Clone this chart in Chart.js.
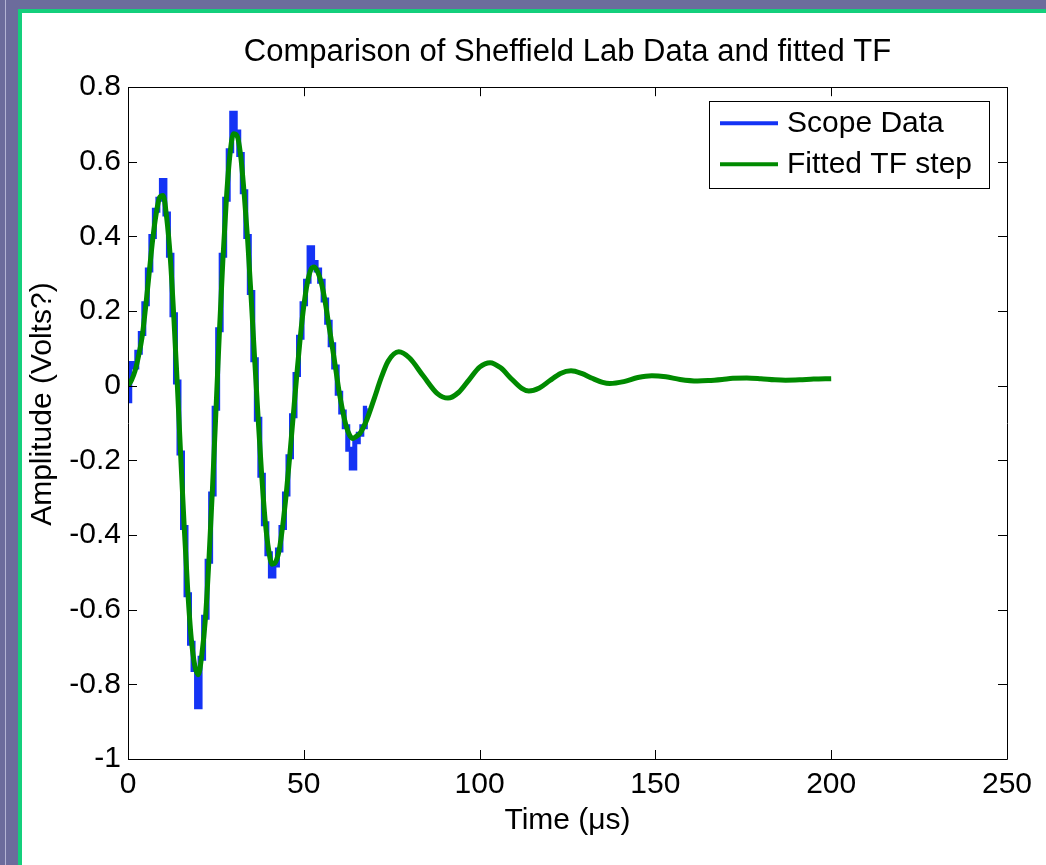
<!DOCTYPE html>
<html>
<head>
<meta charset="utf-8">
<script src="https://cdn.jsdelivr.net/npm/chart.js@4.4.1/dist/chart.umd.min.js"></script>
<style>
  html, body { margin: 0; padding: 0; }
  body { width: 1046px; height: 865px; overflow: hidden; background: #6c6c9c; position: relative; }
  .stripe { position: absolute; left: 5px; top: 0; width: 1px; height: 865px; background: #b4b4d4; }
  #frame { position: absolute; left: 18px; top: 9px; width: 1024px; height: 852px;
           border-left: 4px solid #14cf7c; border-top: 4px solid #14cf7c; background: #fff; }
  #wrap { position: absolute; left: 0; top: 0; width: 1024px; height: 852px; }
</style>
</head>
<body>
<div class="stripe"></div>
<div id="frame"><div id="wrap"><canvas id="chart"></canvas></div></div>
<script>
// Scope data (µs, volts)
const scopeTime = [
  0, 1, 2, 3, 4, 5, 6, 7, 8, 9, 10, 11, 12, 13, 14, 15, 16, 17, 18, 19,
  20, 21, 22, 23, 24, 25, 26, 27, 28, 29, 30, 31, 32, 33, 34, 35, 36, 37, 38, 39,
  40, 41, 42, 43, 44, 45, 46, 47, 48, 49, 50, 51, 52, 53, 54, 55, 56, 57, 58, 59,
  60, 61, 62, 63, 64, 65, 66, 67, 68
];
const scopeVolts = [
  -0.04, 0.06, 0.05, 0.09, 0.14, 0.22, 0.31, 0.40, 0.47, 0.50, 0.55, 0.46, 0.35, 0.19, 0.01, -0.18, -0.38, -0.56, -0.69, -0.76,
  -0.86, -0.73, -0.62, -0.47, -0.29, -0.06, 0.15, 0.35, 0.50, 0.63, 0.73, 0.68, 0.62, 0.52, 0.40, 0.25, 0.07, -0.09, -0.24, -0.37,
  -0.45, -0.51, -0.48, -0.44, -0.38, -0.29, -0.19, -0.08, 0.03, 0.13, 0.22, 0.28, 0.37, 0.33, 0.31, 0.28, 0.23, 0.17, 0.11, 0.05,
  -0.02, -0.07, -0.11, -0.17, -0.22, -0.15, -0.13, -0.11, -0.06
];

// Fitted TF step response
const fitTime = [
  0, 1, 2, 3, 4, 5, 6, 7, 8, 9, 10, 11, 12, 13, 14, 15, 16, 17, 18, 19,
  20, 21, 22, 23, 24, 25, 26, 27, 28, 29, 30, 31, 32, 33, 34, 35, 36, 37, 38, 39,
  40, 41, 42, 43, 44, 45, 46, 47, 48, 49, 50, 51, 52, 53, 54, 55, 56, 57, 58, 59,
  60, 61, 62, 63, 64, 65, 66, 67, 68, 70, 72, 74, 77, 80, 84, 88, 91, 94, 97, 100,
  103, 106, 109, 112, 114, 117, 120, 123, 126, 129, 132, 135, 137, 141, 145, 149, 153, 157, 162, 165,
  169, 172, 176, 180, 184, 187, 191, 195, 200
];
const fitVolts = [
  0.00, 0.015, 0.04, 0.08, 0.13, 0.21, 0.30, 0.39, 0.46, 0.505, 0.51, 0.45, 0.347, 0.19, 0.008, -0.19, -0.381, -0.55, -0.678, -0.75,
  -0.774, -0.72, -0.626, -0.47, -0.28, -0.07, 0.145, 0.34, 0.503, 0.62, 0.675, 0.67, 0.62, 0.52, 0.395, 0.24, 0.075, -0.085, -0.236, -0.36,
  -0.44, -0.478, -0.472, -0.44, -0.375, -0.29, -0.189, -0.08, 0.028, 0.13, 0.214, 0.275, 0.311, 0.318, 0.304, 0.275, 0.229, 0.17, 0.111, 0.05,
  -0.013, -0.065, -0.106, -0.132, -0.141, -0.135, -0.127, -0.11, -0.089, -0.035, 0.021, 0.066, 0.091, 0.075, 0.026, -0.021, -0.033, -0.018, 0.016, 0.050,
  0.062, 0.048, 0.019, -0.007, -0.014, -0.006, 0.014, 0.033, 0.040, 0.033, 0.020, 0.009, 0.006, 0.011, 0.022, 0.027, 0.024, 0.017, 0.013, 0.014,
  0.017, 0.020, 0.021, 0.019, 0.016, 0.015, 0.016, 0.018, 0.019
];

const xTicks = [0, 50, 100, 150, 200, 250];
const xTickLabels = ["0", "50", "100", "150", "200", "250"];
const yTicks = [-1, -0.8, -0.6, -0.4, -0.2, 0, 0.2, 0.4, 0.6, 0.8];
const yTickLabels = ["-1", "-0.8", "-0.6", "-0.4", "-0.2", "0", "0.2", "0.4", "0.6", "0.8"];

const seriesNames = ["Scope Data", "Fitted TF step"];
const chartTitle = "Comparison of Sheffield Lab Data and fitted TF";
const xTitle = "Time (\u03bcs)";
const yTitle = "Amplitude (Volts?)";

const BLUE = "#1433f5";
const GREEN = "#008a00";
const FONT = "'Liberation Sans', Arial, sans-serif";
const TICK = 9;

Chart.defaults.font.family = FONT;
Chart.defaults.color = "#000";

// axes box with inward ticks, like matlab
const boxPlugin = {
  id: "matlabBox",
  afterDatasetsDraw(chart) {
    const { ctx, chartArea: a, scales: { x, y } } = chart;
    ctx.save();
    ctx.strokeStyle = "#000";
    ctx.lineWidth = 1;
    ctx.beginPath();
    ctx.rect(Math.round(a.left) + 0.5, Math.round(a.top) + 0.5,
             Math.round(a.right - a.left), Math.round(a.bottom - a.top));
    x.ticks.forEach((t) => {
      const px = Math.round(x.getPixelForValue(t.value)) + 0.5;
      ctx.moveTo(px, a.bottom); ctx.lineTo(px, a.bottom - TICK);
      ctx.moveTo(px, a.top); ctx.lineTo(px, a.top + TICK);
    });
    y.ticks.forEach((t) => {
      const py = Math.round(y.getPixelForValue(t.value)) + 0.5;
      ctx.moveTo(a.left, py); ctx.lineTo(a.left + TICK, py);
      ctx.moveTo(a.right, py); ctx.lineTo(a.right - TICK, py);
    });
    ctx.stroke();

    // y axis label
    ctx.fillStyle = "#000";
    ctx.font = "30px " + FONT;
    ctx.textAlign = "center";
    ctx.textBaseline = "middle";
    ctx.translate(21, (a.top + a.bottom) / 2 - 19);
    ctx.rotate(-Math.PI / 2);
    ctx.fillText(yTitle, 0, 0);
    ctx.restore();
  }
};

// legend box in the upper right corner
const legendPlugin = {
  id: "boxLegend",
  afterDraw(chart) {
    const { ctx, chartArea: a } = chart;
    const left = a.right - 298, top = a.top + 14;
    ctx.save();
    ctx.fillStyle = "#fff";
    ctx.fillRect(left, top, 280, 87);
    ctx.strokeStyle = "#000";
    ctx.lineWidth = 1;
    ctx.strokeRect(Math.round(left) + 0.5, Math.round(top) + 0.5, 280, 87);
    ctx.font = "30px " + FONT;
    ctx.textBaseline = "middle";
    ctx.textAlign = "left";
    const rows = [36, 77];
    chart.data.datasets.forEach((ds, i) => {
      const yy = top + rows[i] - 14;
      ctx.strokeStyle = ds.borderColor;
      ctx.lineWidth = 4;
      ctx.beginPath();
      ctx.moveTo(left + 11, yy);
      ctx.lineTo(left + 69, yy);
      ctx.stroke();
      ctx.fillStyle = "#000";
      ctx.fillText(ds.label, left + 78, yy + 1);
    });
    ctx.restore();
  }
};

new Chart(document.getElementById("chart"), {
  type: "line",
  data: {
    datasets: [
      {
        label: seriesNames[0],
        data: scopeTime.map((t, i) => ({ x: t, y: scopeVolts[i] })),
        borderColor: BLUE,
        borderWidth: 5,
        stepped: "middle",
        pointRadius: 0,
        order: 2
      },
      {
        label: seriesNames[1],
        data: fitTime.map((t, i) => ({ x: t, y: fitVolts[i] })),
        borderColor: GREEN,
        borderWidth: 5,
        cubicInterpolationMode: "monotone",
        pointRadius: 0,
        order: 1
      }
    ]
  },
  options: {
    responsive: true,
    maintainAspectRatio: false,
    animation: false,
    events: [],
    layout: { padding: { left: 0, right: 39, top: 0, bottom: 0 } },
    plugins: {
      legend: { display: false },
      tooltip: { enabled: false },
      title: {
        display: true,
        fullSize: false,
        text: chartTitle,
        font: { size: 31, weight: "normal" },
        color: "#000",
        padding: { top: 21, bottom: 16 }
      }
    },
    scales: {
      x: {
        type: "linear",
        min: 0,
        max: 250,
        afterBuildTicks: (s) => { s.ticks = xTicks.map((v) => ({ value: v })); },
        afterFit: (s) => { s.height = 106; },
        grid: { display: false, drawTicks: false },
        border: { display: false },
        ticks: {
          padding: 8,
          font: { size: 30 },
          color: "#000",
          maxRotation: 0,
          callback: (v, i) => xTickLabels[i]
        },
        title: {
          display: true,
          text: xTitle,
          font: { size: 30 },
          color: "#000",
          padding: { top: 0, bottom: 26 }
        }
      },
      y: {
        type: "linear",
        min: -1,
        max: 0.8,
        afterBuildTicks: (s) => { s.ticks = yTicks.map((v) => ({ value: v })); },
        afterFit: (s) => { s.width = 106; },
        grid: { display: false, drawTicks: false },
        border: { display: false },
        ticks: {
          padding: 7,
          font: { size: 30 },
          color: "#000",
          callback: (v, i) => yTickLabels[i]
        }
      }
    }
  },
  plugins: [boxPlugin, legendPlugin]
});
</script>
</body>
</html>
